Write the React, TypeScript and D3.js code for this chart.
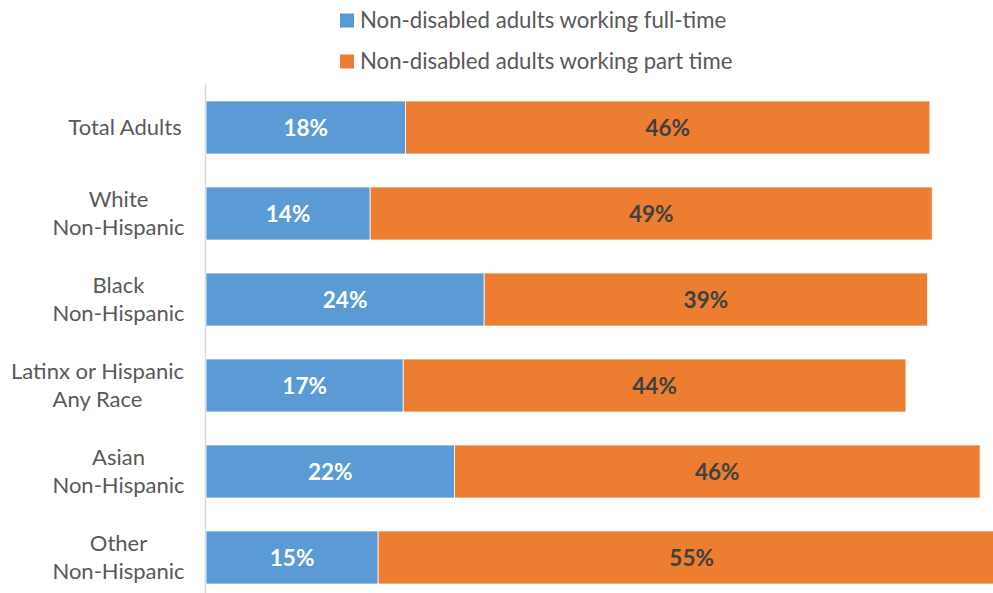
import React from "react";
import * as d3 from "d3";

const categories: string[][] = [
  ["Total Adults"],
  ["White", "Non-Hispanic"],
  ["Black", "Non-Hispanic"],
  ["Latinx or Hispanic", "Any Race"],
  ["Asian", "Non-Hispanic"],
  ["Other", "Non-Hispanic"],
];
const fullTime = [17.5, 14.4, 24.4, 17.3, 21.8, 15.1];
const partTime = [46.0, 49.3, 38.9, 44.1, 46.1, 55.0];
const seriesNames = ["Non-disabled adults working full-time", "Non-disabled adults working part time"];
const colors = ["#5B9BD5", "#ED7D31"];
const labelColors = ["#FFFFFF", "#404040"];

const W = 993;
const H = 593;
const FONT = "Lato, 'Open Sans', sans-serif";

export default function App() {
  const x = d3.scaleLinear().domain([0, 70]).range([206, 206 + 70 * 11.4]);
  const y = d3
    .scaleBand<number>()
    .domain(d3.range(categories.length))
    .range([84.5, 84.5 + 86 * categories.length])
    .paddingInner(33 / 86)
    .paddingOuter(33 / 172);

  const stacked = categories.map((_, i) => {
    const a = fullTime[i];
    const b = partTime[i];
    return [
      { s: 0, x0: 0, x1: a, v: a },
      { s: 1, x0: a, x1: a + b, v: b },
    ];
  });

  return (
    <svg width={W} height={H} style={{ position: "absolute", left: 0, top: 0, background: "#fff" }}>
      <rect width={W} height={H} fill="#fff" />
      {/* legend */}
      {seriesNames.map((n, i) => (
        <g key={n} transform={`translate(340, ${20.5 + i * 41})`}>
          <rect x={0} y={-7} width={14} height={14} fill={colors[i]} />
          <text x={20} y={0} dy="0.35em" fontSize={22.2} fill="#595959" fontFamily={FONT}>
            {n}
          </text>
        </g>
      ))}
      {/* bars */}
      {stacked.map((segs, i) =>
        segs.map((d) => (
          <rect
            key={`${i}-${d.s}`}
            x={x(d.x0)}
            y={y(i)!}
            width={x(d.x1) - x(d.x0)}
            height={y.bandwidth()}
            fill={colors[d.s]}
            stroke="#fff"
            strokeWidth={0.75}
          />
        ))
      )}
      {/* data labels */}
      {stacked.map((segs, i) =>
        segs.map((d) => (
          <text
            key={`l${i}-${d.s}`}
            x={(x(d.x0) + x(d.x1)) / 2}
            y={y(i)! + y.bandwidth() / 2}
            dy="0.36em"
            textAnchor="middle"
            fontSize={22.5}
            fontWeight="bold"
            fill={labelColors[d.s]}
            fontFamily={FONT}
          >
            {`${Math.round(d.v)}%`}
          </text>
        ))
      )}
      {/* axis line */}
      <line x1={205.5} x2={205.5} y1={y.range()[0]} y2={y.range()[1]} stroke="#D9D9D9" strokeWidth={1.5} />
      {/* category labels */}
      {categories.map((lines, i) => {
        const cy = y(i)! + y.bandwidth() / 2;
        const lh = 28.5;
        const start = cy - ((lines.length - 1) * lh) / 2;
        const cx = lines.length === 1 ? 125 : i === 3 ? 97.5 : 118.5;
        return (
          <text key={i} textAnchor="middle" fontSize={22} fill="#595959" fontFamily={FONT}>
            {lines.map((l, j) => (
              <tspan key={j} x={cx} y={start + j * lh} dy="0.35em">
                {l}
              </tspan>
            ))}
          </text>
        );
      })}
    </svg>
  );
}
